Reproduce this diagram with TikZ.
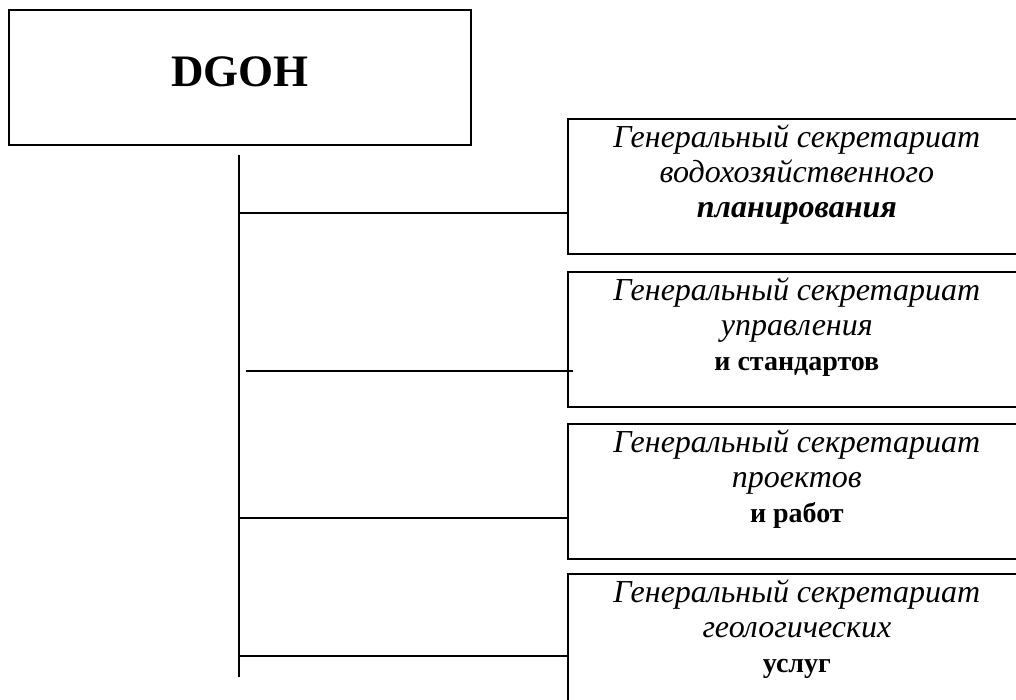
\documentclass[tikz,border=0pt]{standalone}
\usepackage{fontspec}
\setmainfont{Liberation Serif}
\usetikzlibrary{positioning}
\newcommand{\subfont}{\upshape\bfseries\fontsize{28}{36}\selectfont}
\tikzset{
  headbox/.style={draw, line width=1.7pt, minimum width=462pt, minimum height=135pt, text depth=12pt, font=\bfseries\fontsize{45}{45}\selectfont},
  secbox/.style={draw, line width=1.7pt, anchor=north west, minimum width=460pt, minimum height=135pt},
  sectext/.style={align=center, inner sep=0pt, anchor=north, font=\itshape\fontsize{32}{35}\selectfont},
  branch/.style={line width=1.7pt}
}

\begin{document}
\begin{tikzpicture}[x=1pt, y=-1pt]
\useasboundingbox (0,0) rectangle (1016,700);
\node[headbox] (dgoh) at (240,77.5) {DGOH};
\node[secbox] (s1) at (567,118) {};
\node[secbox] (s2) at (567,271) {};
\node[secbox] (s3) at (567,423) {};
\node[secbox] (s4) at (567,573) {};
\node[sectext, below=7pt of s1.north, xshift=-1pt] (s1t) {Генеральный секретариат\\водохозяйственного\\\textbf{планирования}};
\node[sectext, below=7pt of s2.north, xshift=-1pt] (s2t) {Генеральный секретариат\\управления\\{\subfont и стандартов}};
\node[sectext, below=7pt of s3.north, xshift=-1pt] (s3t) {Генеральный секретариат\\проектов\\{\subfont и работ}};
\node[sectext, below=7pt of s4.north, xshift=-1pt] (s4t) {Генеральный секретариат\\геологических\\{\subfont услуг}};
% trunk and branches
\coordinate (top) at (239,155);
\coordinate (bot) at (239,677);
\draw[branch] (top) -- (bot);
\coordinate (b1) at (239,213);
\coordinate (b2) at (246,371);
\coordinate (e2) at (573,371);
\coordinate (b3) at (239,518);
\coordinate (b4) at (239,656);
\draw[branch] (b1) -- (b1 -| s1.west);
\draw[branch] (b2) -- (e2);
\draw[branch] (b3) -- (b3 -| s3.west);
\draw[branch] (b4) -- (b4 -| s4.west);
\end{tikzpicture}
\end{document}
